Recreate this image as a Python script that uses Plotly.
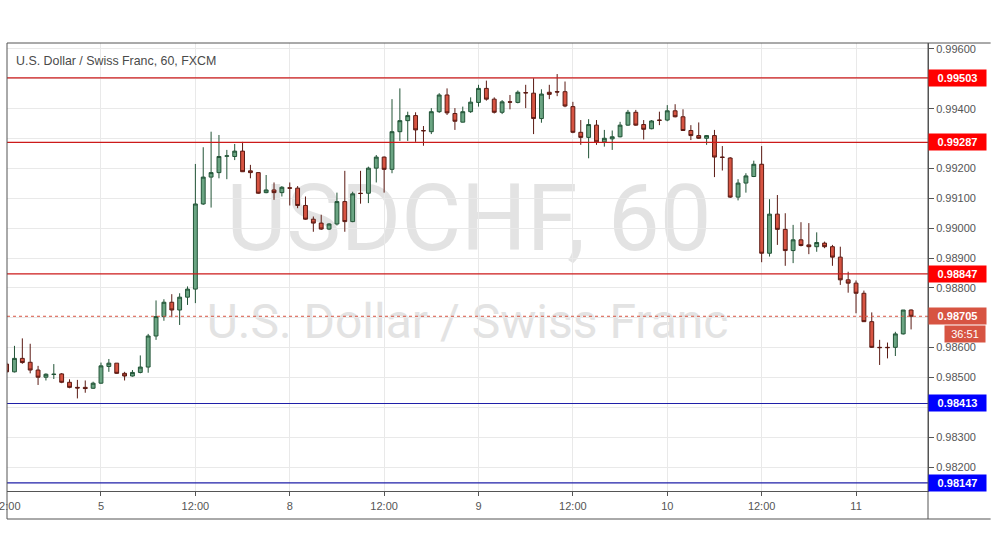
import plotly.graph_objects as go

# ---------------- data (USD/CHF, 60 min, FXCM) ----------------
opens = [0.98545, 0.98519, 0.98564, 0.98551, 0.98525, 0.98501, 0.98510, 0.98512, 0.98484, 0.98467,
         0.98467, 0.98464, 0.98481, 0.98537, 0.98548, 0.98514, 0.98505, 0.98517, 0.98535, 0.98639,
         0.98704, 0.98752, 0.98726, 0.98769, 0.98796, 0.99081, 0.99171, 0.99186, 0.99241, 0.99240,
         0.99258, 0.99192, 0.99186, 0.99119, 0.99128, 0.99119, 0.99135, 0.99134, 0.99076, 0.99030,
         0.99017, 0.98997, 0.99014, 0.99089, 0.99022, 0.99117, 0.99117, 0.99201, 0.99238, 0.99197,
         0.99323, 0.99360, 0.99377, 0.99327, 0.99323, 0.99390, 0.99446, 0.99384, 0.99355, 0.99390,
         0.99421, 0.99468, 0.99432, 0.99388, 0.99423, 0.99421, 0.99454, 0.99452, 0.99367, 0.99455,
         0.99457, 0.99457, 0.99407, 0.99321, 0.99304, 0.99345, 0.99289, 0.99299, 0.99306, 0.99345,
         0.99388, 0.99347, 0.99333, 0.99362, 0.99362, 0.99393, 0.99373, 0.99327, 0.99310, 0.99301,
         0.99310, 0.99238, 0.99235, 0.99104, 0.99151, 0.99173, 0.99214, 0.98916, 0.99047, 0.98996,
         0.98925, 0.98961, 0.98944, 0.98938, 0.98950, 0.98938, 0.98903, 0.98827, 0.98816, 0.98782,
         0.98687, 0.98601, 0.98601, 0.98601, 0.98646, 0.98726]

highs = [0.98552, 0.98606, 0.98631, 0.98613, 0.98539, 0.98514, 0.98545, 0.98515, 0.98494, 0.98492,
         0.98490, 0.98486, 0.98550, 0.98562, 0.98548, 0.98519, 0.98525, 0.98574, 0.98646, 0.98758,
         0.98762, 0.98779, 0.98782, 0.98805, 0.99215, 0.99271, 0.99323, 0.99312, 0.99262, 0.99282,
         0.99289, 0.99212, 0.99187, 0.99178, 0.99153, 0.99141, 0.99153, 0.99141, 0.99106, 0.99039,
         0.99045, 0.99017, 0.99119, 0.99192, 0.99122, 0.99192, 0.99206, 0.99245, 0.99240, 0.99432,
         0.99468, 0.99390, 0.99388, 0.99342, 0.99402, 0.99452, 0.99468, 0.99402, 0.99407, 0.99438,
         0.99480, 0.99494, 0.99438, 0.99429, 0.99446, 0.99461, 0.99480, 0.99502, 0.99465, 0.99480,
         0.99516, 0.99491, 0.99423, 0.99362, 0.99365, 0.99362, 0.99329, 0.99327, 0.99356, 0.99396,
         0.99396, 0.99362, 0.99362, 0.99390, 0.99412, 0.99415, 0.99398, 0.99345, 0.99354, 0.99312,
         0.99329, 0.99275, 0.99238, 0.99164, 0.99184, 0.99226, 0.99275, 0.99097, 0.99111, 0.99050,
         0.99011, 0.99020, 0.99017, 0.98986, 0.98955, 0.98944, 0.98938, 0.98854, 0.98825, 0.98791,
         0.98718, 0.98626, 0.98617, 0.98653, 0.98726, 0.98728]

lows = [0.98515, 0.98517, 0.98546, 0.98514, 0.98475, 0.98490, 0.98495, 0.98481, 0.98464, 0.98430,
        0.98449, 0.98462, 0.98479, 0.98519, 0.98512, 0.98490, 0.98503, 0.98514, 0.98516, 0.98626,
        0.98690, 0.98702, 0.98676, 0.98743, 0.98749, 0.99078, 0.99069, 0.99167, 0.99164, 0.99228,
        0.99188, 0.99167, 0.99115, 0.99117, 0.99095, 0.99106, 0.99076, 0.99067, 0.99028, 0.98988,
        0.98994, 0.98994, 0.99009, 0.98988, 0.99020, 0.99082, 0.99084, 0.99153, 0.99119, 0.99184,
        0.99292, 0.99292, 0.99289, 0.99276, 0.99315, 0.99386, 0.99379, 0.99329, 0.99354, 0.99386,
        0.99407, 0.99427, 0.99384, 0.99382, 0.99398, 0.99418, 0.99402, 0.99315, 0.99353, 0.99432,
        0.99442, 0.99405, 0.99318, 0.99279, 0.99234, 0.99279, 0.99273, 0.99262, 0.99304, 0.99343,
        0.99343, 0.99297, 0.99331, 0.99345, 0.99358, 0.99371, 0.99326, 0.99295, 0.99299, 0.99279,
        0.99171, 0.99193, 0.99101, 0.99093, 0.99119, 0.99171, 0.98886, 0.98905, 0.98944, 0.98874,
        0.98883, 0.98939, 0.98913, 0.98921, 0.98933, 0.98874, 0.98810, 0.98784, 0.98715, 0.98686,
        0.98599, 0.98542, 0.98564, 0.98572, 0.98644, 0.98661]

closes = [0.98519, 0.98564, 0.98550, 0.98525, 0.98501, 0.98511, 0.98511, 0.98484, 0.98467, 0.98465,
          0.98463, 0.98481, 0.98539, 0.98548, 0.98514, 0.98505, 0.98517, 0.98535, 0.98639, 0.98704,
          0.98752, 0.98726, 0.98769, 0.98796, 0.99081, 0.99171, 0.99186, 0.99240, 0.99242, 0.99258,
          0.99189, 0.99186, 0.99117, 0.99128, 0.99119, 0.99137, 0.99134, 0.99076, 0.99030, 0.99017,
          0.98997, 0.99014, 0.99089, 0.99022, 0.99115, 0.99116, 0.99201, 0.99238, 0.99197, 0.99323,
          0.99360, 0.99377, 0.99329, 0.99326, 0.99390, 0.99446, 0.99386, 0.99358, 0.99390, 0.99422,
          0.99468, 0.99432, 0.99388, 0.99423, 0.99422, 0.99455, 0.99453, 0.99367, 0.99449, 0.99448,
          0.99456, 0.99409, 0.99321, 0.99304, 0.99347, 0.99289, 0.99301, 0.99306, 0.99345, 0.99388,
          0.99345, 0.99331, 0.99359, 0.99361, 0.99393, 0.99373, 0.99327, 0.99310, 0.99301, 0.99310,
          0.99238, 0.99237, 0.99104, 0.99151, 0.99175, 0.99214, 0.98916, 0.99047, 0.98996, 0.98925,
          0.98961, 0.98942, 0.98938, 0.98952, 0.98938, 0.98903, 0.98827, 0.98816, 0.98782, 0.98687,
          0.98601, 0.98600, 0.98600, 0.98646, 0.98726, 0.98705]

time_tick_index = [0, 12, 24, 36, 48, 60, 72, 84, 96, 108]
time_tick_labels = ["12:00", "5", "12:00", "8", "12:00", "9", "12:00", "10", "12:00", "11"]

price_ticks = [0.982, 0.983, 0.984, 0.985, 0.986, 0.987, 0.988, 0.989,
               0.990, 0.991, 0.992, 0.993, 0.994, 0.995, 0.996]
hidden_price_ticks = [0.984, 0.987, 0.993, 0.995]

resistance_levels = [0.99503, 0.99287, 0.98847]
support_levels = [0.98413, 0.98147]
last_price = 0.98705
countdown = "36:51"

title_text = "U.S. Dollar / Swiss Franc, 60, FXCM"
watermark_main = "USDCHF, 60"
watermark_sub = "U.S. Dollar / Swiss Franc"

# ---------------- figure ----------------
UP_FILL, UP_LINE = "#6ba583", "#225437"
DN_FILL, DN_LINE = "#d75442", "#5b1a13"
RED_LINE, RED_LABEL = "#cc1a1a", "#ff0000"
BLUE_LINE, BLUE_LABEL = "#1f1fa8", "#0000ff"
LAST_COL = "#d75442"
AXIS_COL = "#555555"
GRID_COL = "#e9e9e9"
FONT = "Liberation Sans, Arial, sans-serif"
TICK_FONT = dict(family=FONT, size=11, color=AXIS_COL)

idx = list(range(len(opens)))

fig = go.Figure(go.Candlestick(
    x=idx, open=opens, high=highs, low=lows, close=closes,
    increasing=dict(line=dict(color=UP_LINE, width=1), fillcolor=UP_FILL),
    decreasing=dict(line=dict(color=DN_LINE, width=1), fillcolor=DN_FILL),
    whiskerwidth=0, hoverinfo="skip", showlegend=False,
))

tick_text = ["" if any(abs(t - h) < 1e-9 for h in hidden_price_ticks) else f"{t:.5f}"
             for t in price_ticks]

fig.update_layout(
    width=991, height=556,
    margin=dict(l=7, r=63, t=43, b=65, autoexpand=False),
    paper_bgcolor="white", plot_bgcolor="white",
    showlegend=False,
    xaxis=dict(
        range=[0.05, 117.15], automargin=False,
        tickmode="array", tickvals=time_tick_index[1:], ticktext=time_tick_labels[1:],
        showgrid=True, gridcolor=GRID_COL, gridwidth=1,
        zeroline=False, showline=True, linecolor=AXIS_COL, linewidth=1,
        ticks="outside", ticklen=4, tickcolor=AXIS_COL,
        tickfont=TICK_FONT, ticklabelstandoff=1,
        rangeslider=dict(visible=False), fixedrange=True,
    ),
    yaxis=dict(
        side="right", range=[0.98120, 0.99620], automargin=False,
        tickmode="array", tickvals=price_ticks, ticktext=tick_text,
        showgrid=True, gridcolor=GRID_COL, gridwidth=1,
        zeroline=False, showline=True, linecolor=AXIS_COL, linewidth=1,
        ticks="outside", ticklen=5, tickcolor=AXIS_COL,
        tickfont=TICK_FONT, fixedrange=True,
    ),
)

shapes = []
# watermark (behind candles)
for text, cx, cy, size in [(watermark_main, 0.5016, 0.625, 92),
                           (watermark_sub, 0.500, 0.386, 48)]:
    shapes.append(dict(type="rect", xref="paper", yref="paper",
                       x0=cx - 0.05, x1=cx + 0.05, y0=cy - 0.02, y1=cy + 0.02,
                       line=dict(width=0), fillcolor="rgba(0,0,0,0)", layer="between",
                       label=dict(text=text, textposition="middle center",
                                  font=dict(family="Roboto, sans-serif", size=size, color="#e3e3e3"))))

for lv in resistance_levels:
    shapes.append(dict(type="line", xref="paper", yref="y", x0=0, x1=1, y0=lv, y1=lv,
                       line=dict(color=RED_LINE, width=1.2)))
for lv in support_levels:
    shapes.append(dict(type="line", xref="paper", yref="y", x0=0, x1=1, y0=lv, y1=lv,
                       line=dict(color=BLUE_LINE, width=1.2)))
shapes.append(dict(type="line", xref="paper", yref="y", x0=0, x1=1, y0=last_price, y1=last_price,
                   line=dict(color=LAST_COL, width=1, dash="dot")))

# outer frame
bottom = -0.0625
right_edge = 1.068
frame = dict(color=AXIS_COL, width=1)
shapes += [
    dict(type="line", xref="paper", yref="paper", x0=0, x1=0, y0=bottom, y1=1, line=frame),
    dict(type="line", xref="paper", yref="paper", x0=0, x1=right_edge, y0=1, y1=1, line=frame),
    dict(type="line", xref="paper", yref="paper", x0=0, x1=right_edge, y0=bottom, y1=bottom, line=frame),
    dict(type="line", xref="paper", yref="paper", x0=1, x1=1, y0=bottom, y1=1, line=frame),
]
fig.update_layout(shapes=shapes)

ann = [dict(text=title_text, xref="paper", yref="paper", x=0.0075, y=0.9605,
            xanchor="left", yanchor="middle", showarrow=False,
            font=dict(family=FONT, size=12.4, color="#4a4a4a")),
       # first time label (12:00 of the first candle), cut off at the left edge
       dict(text=time_tick_labels[0], xref="paper", yref="paper", x=0, y=-0.0345,
            xanchor="center", yanchor="middle", showarrow=False, font=TICK_FONT)]

def price_label(level, bg):
    return dict(text=f"<b>{level:.5f}</b>", xref="paper", yref="y", x=1, y=level,
                xanchor="left", yanchor="middle", showarrow=False,
                width=55, height=14, borderpad=1, bgcolor=bg, align="center",
                font=dict(family=FONT, size=11, color="white"))

for lv in resistance_levels:
    ann.append(price_label(lv, RED_LABEL))
for lv in support_levels:
    ann.append(price_label(lv, BLUE_LABEL))
ann.append(price_label(last_price, LAST_COL))
ann.append(dict(text=countdown, xref="paper", yref="y", x=1, y=last_price,
                xanchor="left", yanchor="middle", xshift=16, yshift=-18, showarrow=False,
                width=38, height=14, borderpad=1, bgcolor=LAST_COL, align="center",
                font=dict(family=FONT, size=11, color="white")))
fig.update_layout(annotations=ann)

fig.write_html("out.html", config={"displayModeBar": False},
               post_script="document.body.style.margin='0';document.body.style.overflow='hidden';")
